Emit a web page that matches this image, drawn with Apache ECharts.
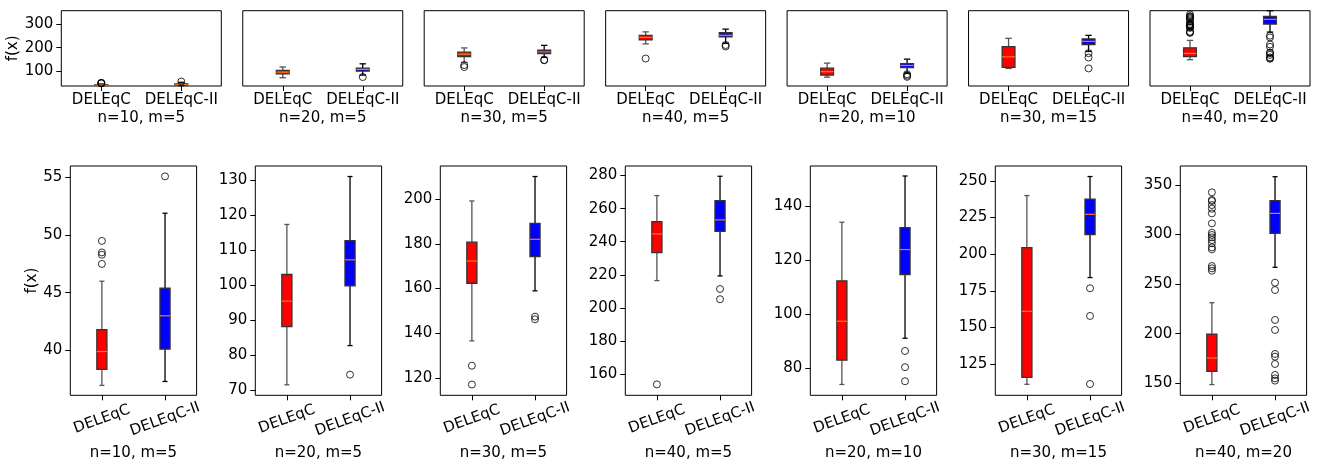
<!DOCTYPE html>
<html><head><meta charset="utf-8">
<script src="https://cdn.jsdelivr.net/npm/echarts@6/dist/echarts.min.js"></script>
<style>html,body{margin:0;padding:0;background:#fff}#c{width:1322px;height:463px}</style>
</head><body><div id="c"></div>
<script>
const methods = ['DELEqC', 'DELEqC-II'];
const panelTitles = ['n=10, m=5', 'n=20, m=5', 'n=30, m=5', 'n=40, m=5', 'n=20, m=10', 'n=30, m=15', 'n=40, m=20'];
// [low whisker, Q1, median, Q3, high whisker]
const boxDELEqC = [
  [36.96, 38.35, 39.9, 41.8, 46.0],
  [71.5, 88.1, 95.4, 103.0, 117.3],
  [136.7, 162.4, 172.3, 180.7, 199.1],
  [216.5, 233.4, 244.7, 252.2, 267.9],
  [74.0, 83.0, 97.4, 112.3, 134.0],
  [111.1, 115.9, 161.0, 204.5, 240.0],
  [148.7, 162.1, 175.5, 199.7, 231.3]
];
const boxDELEqCII = [
  [37.3, 40.1, 43.0, 45.4, 51.9],
  [82.7, 99.8, 107.2, 112.7, 131.0],
  [159.0, 174.3, 182.0, 189.1, 210.0],
  [219.3, 246.3, 253.2, 264.9, 279.6],
  [91.1, 114.6, 123.9, 132.0, 151.1],
  [184.0, 213.3, 227.2, 237.5, 253.0],
  [267.0, 301.3, 321.4, 334.2, 358.4]
];
const outDELEqC = [
  [49.5, 48.5, 48.3, 47.5],
  [],
  [125.6, 117.2],
  [153.7],
  [],
  [],
  [342.6, 334.9, 333.9, 329.8, 326.1, 321.4, 311.3, 301.9, 299.6, 297.2, 294.5, 291.2, 287.1, 285.1, 268.3, 266.0, 263.6]
];
const outDELEqCII = [
  [55.1],
  [74.4],
  [147.5, 146.3],
  [211.4, 205.2],
  [86.4, 80.4, 75.2],
  [176.7, 157.8, 111.3],
  [251.5, 244.1, 213.9, 203.8, 179.6, 176.9, 169.5, 158.4, 155.0, 152.7]
];
const yRangeTop = [36, 358.5];
const yTicksTop = [100, 200, 300];
const yRangesBottom = [[36.1, 56.0], [68.5, 134], [112.4, 214.7], [147.1, 285.8], [70, 154.8], [103.6, 260.2], [137.9, 369.2]];
const yTicksBottom = [
  [40, 45, 50, 55],
  [70, 80, 90, 100, 110, 120, 130],
  [120, 140, 160, 180, 200],
  [160, 180, 200, 220, 240, 260, 280],
  [80, 100, 120, 140],
  [125, 150, 175, 200, 225, 250],
  [150, 200, 250, 300, 350]
];

const FONT = 'DejaVu Sans';
const FS = 15;
const chart = echarts.init(document.getElementById('c'), null, {renderer: 'canvas'});

function renderBox(params, api) {
  const xi = api.value(0);
  const pLow = api.coord([xi, api.value(1)]);
  const pQ1 = api.coord([xi, api.value(2)]);
  const pMed = api.coord([xi, api.value(3)]);
  const pQ3 = api.coord([xi, api.value(4)]);
  const pHigh = api.coord([xi, api.value(5)]);
  const band = api.size([1, 0])[0];
  const hw = band * 0.08;
  const cw = hw * 0.5;
  const x = pMed[0];
  const fill = xi === 0 ? '#ff0000' : '#0000ff';
  const wc = xi === 0 ? '#555555' : '#000000';
  const lw = 1.3;
  return {
    type: 'group',
    children: [
      {type: 'line', shape: {x1: x, y1: pQ1[1], x2: x, y2: pLow[1]}, style: {stroke: wc, lineWidth: lw}},
      {type: 'line', shape: {x1: x, y1: pQ3[1], x2: x, y2: pHigh[1]}, style: {stroke: wc, lineWidth: lw}},
      {type: 'line', shape: {x1: x - cw, y1: pLow[1], x2: x + cw, y2: pLow[1]}, style: {stroke: wc, lineWidth: lw}},
      {type: 'line', shape: {x1: x - cw, y1: pHigh[1], x2: x + cw, y2: pHigh[1]}, style: {stroke: wc, lineWidth: lw}},
      {type: 'rect', shape: {x: x - hw, y: pQ3[1], width: 2 * hw, height: pQ1[1] - pQ3[1]}, style: {fill: fill, stroke: '#333333', lineWidth: lw}},
      {type: 'line', shape: {x1: x - hw, y1: pMed[1], x2: x + hw, y2: pMed[1]}, style: {stroke: '#ff7f0e', lineWidth: 1.2}}
    ]
  };
}

const grids = [], xAxes = [], yAxes = [], series = [];
for (let row = 0; row < 2; row++) {
  for (let i = 0; i < 7; i++) {
    const idx = row * 7 + i;
    if (row === 0) {
      grids.push({left: 61.3 + i * 181.45, top: 10.7, width: 160, height: 75.3, show: true, borderColor: '#000', borderWidth: 1, backgroundColor: '#fff'});
    } else {
      grids.push({left: 70.3 + i * 185, top: 166, width: 126.3, height: 229.3, show: true, borderColor: '#000', borderWidth: 1, backgroundColor: '#fff'});
    }
    xAxes.push({
      type: 'category', gridIndex: idx, data: methods, boundaryGap: true,
      axisLine: {show: false},
      axisTick: {show: true, alignWithLabel: true, length: 5, lineStyle: {color: '#000', width: 1}},
      axisLabel: row === 0
        ? {fontFamily: FONT, fontSize: FS, color: '#000', margin: 7, interval: 0}
        : {fontFamily: FONT, fontSize: FS, color: '#000', margin: 24, interval: 0, rotate: 20, align: 'center', verticalAlign: 'middle'},
      name: panelTitles[i], nameLocation: 'middle', nameGap: row === 0 ? 25 : 50,
      nameTextStyle: {fontFamily: FONT, fontSize: FS, color: '#000'},
      splitLine: {show: false}
    });
    const range = row === 0 ? yRangeTop : yRangesBottom[i];
    const ticks = row === 0 ? yTicksTop : yTicksBottom[i];
    const showY = row === 1 || i === 0;
    yAxes.push({
      type: 'value', gridIndex: idx, min: range[0], max: range[1],
      axisLine: {show: false},
      axisTick: {show: showY, length: 5, lineStyle: {color: '#000', width: 1}, customValues: ticks},
      axisLabel: {show: showY, fontFamily: FONT, fontSize: FS, color: '#000', margin: 8, customValues: ticks},
      splitLine: {show: false},
      name: (i === 0) ? 'f(x)' : '', nameLocation: 'middle', nameGap: row === 0 ? 34 : 30,
      nameTextStyle: {fontFamily: FONT, fontSize: FS, color: '#000'}
    });
    series.push({
      type: 'custom', xAxisIndex: idx, yAxisIndex: idx,
      renderItem: renderBox,
      encode: {x: 0, y: [1, 2, 3, 4, 5]},
      data: [[0].concat(boxDELEqC[i]), [1].concat(boxDELEqCII[i])],
      silent: true, animation: false
    });
    const outs = outDELEqC[i].map(v => [0, v]).concat(outDELEqCII[i].map(v => [1, v]));
    series.push({
      type: 'scatter', xAxisIndex: idx, yAxisIndex: idx,
      symbol: 'circle', symbolSize: 7,
      itemStyle: {color: 'rgba(0,0,0,0)', borderColor: '#000', borderWidth: 1},
      data: outs, silent: true, animation: false, z: 5
    });
  }
}

chart.setOption({
  animation: false,
  backgroundColor: '#fff',
  grid: grids, xAxis: xAxes, yAxis: yAxes, series: series
});
</script>
</body></html>
